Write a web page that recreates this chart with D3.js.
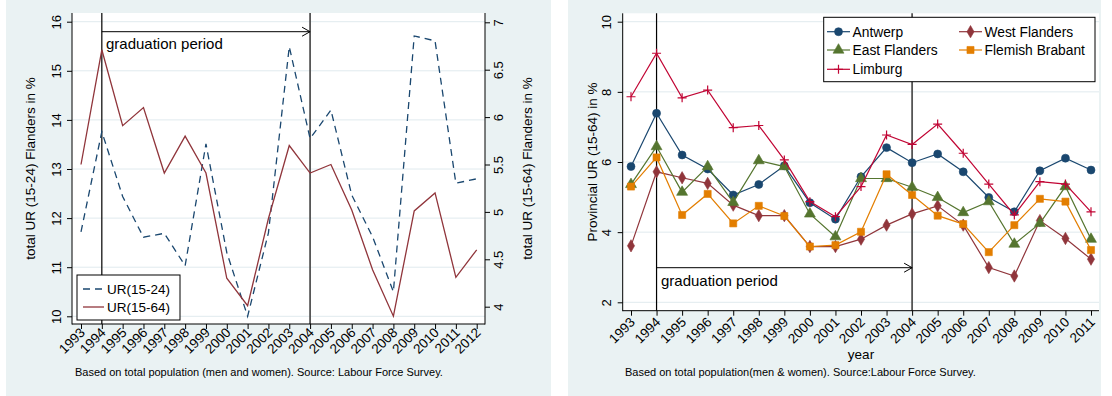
<!DOCTYPE html>
<html>
<head>
<meta charset="utf-8">
<script src="https://cdn.jsdelivr.net/npm/d3@7"></script>
<style>
  body { margin: 0; background: #fff; }
  text { font-family: "Liberation Sans", Arial, sans-serif; fill: #000; }
</style>
</head>
<body>
<script>
// ---- data ----
var yearsTotal = [1993, 1994, 1995, 1996, 1997, 1998, 1999, 2000, 2001, 2002,
                  2003, 2004, 2005, 2006, 2007, 2008, 2009, 2010, 2011, 2012];
var urYouth = [11.72, 13.76, 12.44, 11.61, 11.69, 11.03, 13.51, 11.30, 10.00, 11.70,
               15.49, 13.62, 14.20, 12.47, 11.62, 10.50, 15.71, 15.61, 12.71, 12.80];
var urTotal = [5.50, 6.71, 5.91, 6.10, 5.41, 5.80, 5.41, 4.30, 4.01, 4.93,
               5.70, 5.41, 5.50, 5.02, 4.39, 3.90, 5.01, 5.20, 4.31, 4.60];

var yearsProv = [1993, 1994, 1995, 1996, 1997, 1998, 1999, 2000, 2001, 2002,
                 2003, 2004, 2005, 2006, 2007, 2008, 2009, 2010, 2011];
var antwerp = [5.87, 7.39, 6.20, 5.80, 5.06, 5.36, 5.89, 4.84, 4.37, 5.58,
               6.41, 5.98, 6.23, 5.72, 4.99, 4.58, 5.75, 6.11, 5.77];
var westFlanders = [3.61, 5.72, 5.55, 5.39, 4.77, 4.47, 4.47, 3.59, 3.59, 3.80,
                    4.20, 4.52, 4.75, 4.20, 2.99, 2.75, 4.33, 3.82, 3.23];
var eastFlanders = [5.36, 6.44, 5.14, 5.87, 4.85, 6.04, 5.87, 4.52, 3.87, 5.53,
                    5.53, 5.28, 4.99, 4.56, 4.87, 3.66, 4.25, 5.30, 3.80];
var flemishBrabant = [5.30, 6.13, 4.49, 5.09, 4.25, 4.75, 4.46, 3.59, 3.63, 4.01,
                      5.65, 5.06, 4.47, 4.23, 3.43, 4.20, 4.95, 4.87, 3.49];
var limburg = [7.86, 9.10, 7.83, 8.05, 6.98, 7.04, 6.06, 4.87, 4.44, 5.30,
               6.77, 6.50, 7.08, 6.25, 5.37, 4.49, 5.44, 5.37, 4.58];

var leftTicks  = [10, 11, 12, 13, 14, 15, 16];
var rightTicks = [4, 4.5, 5, 5.5, 6, 6.5, 7];
var provTicks  = [2, 4, 6, 8, 10];
var periodStart = 1994, periodEnd = 2004;

var provinces = [
  { name: 'Antwerp',         values: antwerp,        color: '#1a476f', symbol: d3.symbolCircle },
  { name: 'West Flanders',   values: westFlanders,   color: '#90353b', symbol: d3.symbolDiamond },
  { name: 'East Flanders',   values: eastFlanders,   color: '#55752f', symbol: d3.symbolTriangle },
  { name: 'Flemish Brabant', values: flemishBrabant, color: '#e37e00', symbol: d3.symbolSquare },
  { name: 'Limburg',         values: limburg,        color: '#c10534', symbol: 'plus' }
];

var width = 1112, height = 396;
var bg = '#eaf2f3', gridColor = '#e0eaee';
var fontFam = '"Liberation Sans", Arial, sans-serif';

var svg = d3.select('body').append('svg')
    .attr('width', width)
    .attr('height', height);

// panels
svg.append('rect').attr('x', 6).attr('y', 0).attr('width', 545).attr('height', height).attr('fill', bg);
svg.append('rect').attr('x', 568).attr('y', 0).attr('width', 533).attr('height', height).attr('fill', bg);

function styleAxis(g) {
  g.select('.domain').remove();
  g.selectAll('.tick line').attr('stroke', '#000');
}

function arrow(g, x1, x2, y) {
  g.append('line').attr('x1', x1).attr('x2', x2).attr('y1', y).attr('y2', y)
      .attr('stroke', '#000').attr('stroke-width', 1);
  g.append('path').attr('d', 'M' + (x2 - 8) + ',' + (y - 4.5) + 'L' + x2 + ',' + y + 'L' + (x2 - 8) + ',' + (y + 4.5))
      .attr('fill', 'none').attr('stroke', '#000').attr('stroke-width', 1);
}

// ================= left chart =================
var L = { left: 72, right: 485, top: 13, bottom: 324 };
var xL = d3.scaleLinear().domain([1993, 2012]).range([81, 476.7]);
var yLeft = d3.scaleLinear().domain([10, 16]).range([316.3, 21.7]);
var yRight = d3.scaleLinear().domain([4, 7]).range([306.7, 22.3]);

var left = svg.append('g');
left.append('rect').attr('x', L.left).attr('y', L.top)
    .attr('width', L.right - L.left).attr('height', L.bottom - L.top).attr('fill', '#fff');

left.selectAll('.grid').data(leftTicks).enter().append('line')
    .attr('x1', L.left).attr('x2', L.right)
    .attr('y1', function (d) { return yLeft(d); })
    .attr('y2', function (d) { return yLeft(d); })
    .attr('stroke', gridColor).attr('stroke-width', 1);

// period lines
left.append('line').attr('x1', xL(periodStart)).attr('x2', xL(periodStart))
    .attr('y1', L.top).attr('y2', L.bottom).attr('stroke', '#000').attr('stroke-width', 1.2);
left.append('line').attr('x1', xL(periodEnd)).attr('x2', xL(periodEnd))
    .attr('y1', L.top).attr('y2', L.bottom).attr('stroke', '#555').attr('stroke-width', 1.8);
arrow(left, xL(periodStart), xL(periodEnd), 31.7);
left.append('text').attr('x', 106).attr('y', 48.5).style('font-size', '15px').text('graduation period');

var lineYouth = d3.line()
    .x(function (d, i) { return xL(yearsTotal[i]); })
    .y(function (d) { return yLeft(d); });
var lineTotal = d3.line()
    .x(function (d, i) { return xL(yearsTotal[i]); })
    .y(function (d) { return yRight(d); });

left.append('path').attr('d', lineYouth(urYouth))
    .attr('fill', 'none').attr('stroke', '#1a476f').attr('stroke-width', 1.3)
    .attr('stroke-dasharray', '7,5');
left.append('path').attr('d', lineTotal(urTotal))
    .attr('fill', 'none').attr('stroke', '#90353b').attr('stroke-width', 1.3);

// axes
left.append('line').attr('x1', L.left).attr('x2', L.left).attr('y1', L.top).attr('y2', L.bottom + 0.5).attr('stroke', '#000');
left.append('line').attr('x1', L.right).attr('x2', L.right).attr('y1', L.top).attr('y2', L.bottom + 0.5).attr('stroke', '#000');
left.append('line').attr('x1', L.left).attr('x2', L.right).attr('y1', L.bottom).attr('y2', L.bottom).attr('stroke', '#000');

left.append('g').attr('transform', 'translate(' + L.left + ',0)')
    .call(d3.axisLeft(yLeft).tickValues(leftTicks).tickSize(5).tickFormat(d3.format('d')))
    .call(styleAxis)
    .call(function (g) {
      g.selectAll('text').attr('x', 0).attr('y', -11).attr('dy', 0)
        .attr('transform', 'rotate(-90)').style('text-anchor', 'middle')
        .style('font-size', '13px').style('font-family', fontFam);
    });

left.append('g').attr('transform', 'translate(' + L.right + ',0)')
    .call(d3.axisRight(yRight).tickValues(rightTicks).tickSize(5).tickFormat(d3.format('~g')))
    .call(styleAxis)
    .call(function (g) {
      g.selectAll('text').attr('x', 0).attr('y', 18).attr('dy', 0)
        .attr('transform', 'rotate(-90)').style('text-anchor', 'middle')
        .style('font-size', '13px').style('font-family', fontFam);
    });

left.append('g').attr('transform', 'translate(0,' + L.bottom + ')')
    .call(d3.axisBottom(xL).tickValues(yearsTotal).tickSize(5).tickFormat(d3.format('d')))
    .call(styleAxis)
    .call(function (g) {
      g.selectAll('text').attr('x', 0).attr('y', 0).attr('dy', '0.35em')
        .attr('transform', 'translate(1,6) rotate(-45)').style('text-anchor', 'end')
        .style('font-size', '13.5px').style('font-family', fontFam);
    });

left.append('text').attr('transform', 'translate(35,168.5) rotate(-90)')
    .style('text-anchor', 'middle').style('font-size', '13.5px').text('total UR (15-24) Flanders in %');
left.append('text').attr('transform', 'translate(531.5,168.5) rotate(-90)')
    .style('text-anchor', 'middle').style('font-size', '13.5px').text('total UR (15-64) Flanders in %');

// legend
var legL = left.append('g');
legL.append('rect').attr('x', 77).attr('y', 275).attr('width', 103).attr('height', 45)
    .attr('fill', '#fff').attr('stroke', '#000').attr('stroke-width', 1);
legL.append('line').attr('x1', 83).attr('x2', 104).attr('y1', 289).attr('y2', 289)
    .attr('stroke', '#1a476f').attr('stroke-width', 1.3).attr('stroke-dasharray', '7,5');
legL.append('line').attr('x1', 83).attr('x2', 104).attr('y1', 307).attr('y2', 307)
    .attr('stroke', '#90353b').attr('stroke-width', 1.3);
legL.append('text').attr('x', 107).attr('y', 289).attr('dy', '0.36em').style('font-size', '13.5px').text('UR(15-24)');
legL.append('text').attr('x', 107).attr('y', 307).attr('dy', '0.36em').style('font-size', '13.5px').text('UR(15-64)');

left.append('text').attr('x', 75).attr('y', 376).style('font-size', '11px')
    .text('Based on total population (men and women). Source: Labour Force Survey.');

// ================= right chart =================
var R = { left: 622.7, right: 1099, top: 13.3, bottom: 310.7 };
var xR = d3.scaleLinear().domain([1993, 2011]).range([631, 1091]);
var yP = d3.scaleLinear().domain([2, 10]).range([302.3, 21.7]);

var right = svg.append('g');
right.append('rect').attr('x', R.left).attr('y', R.top)
    .attr('width', R.right - R.left).attr('height', R.bottom - R.top).attr('fill', '#fff');

right.selectAll('.grid').data(provTicks).enter().append('line')
    .attr('x1', R.left).attr('x2', R.right)
    .attr('y1', function (d) { return yP(d); })
    .attr('y2', function (d) { return yP(d); })
    .attr('stroke', gridColor).attr('stroke-width', 1);

right.append('line').attr('x1', xR(periodStart)).attr('x2', xR(periodStart))
    .attr('y1', R.top).attr('y2', R.bottom).attr('stroke', '#000').attr('stroke-width', 1.2);
right.append('line').attr('x1', xR(periodEnd)).attr('x2', xR(periodEnd))
    .attr('y1', R.top).attr('y2', R.bottom).attr('stroke', '#555').attr('stroke-width', 1.8);
arrow(right, xR(periodStart), xR(periodEnd), 267.7);
right.append('text').attr('x', 661).attr('y', 285.5).style('font-size', '15px').text('graduation period');

function drawMarker(g, sym, color, x, y) {
  if (sym === 'plus') {
    g.append('path').attr('d', 'M' + (x - 4.5) + ',' + y + 'H' + (x + 4.5) + 'M' + x + ',' + (y - 4.5) + 'V' + (y + 4.5))
        .attr('stroke', color).attr('stroke-width', 1.2).attr('fill', 'none');
  } else {
    var size = sym === d3.symbolTriangle ? 52 : (sym === d3.symbolSquare ? 50 : (sym === d3.symbolDiamond ? 44 : 50));
    g.append('path').attr('d', d3.symbol().type(sym).size(size)())
        .attr('transform', 'translate(' + x + ',' + y + ')')
        .attr('fill', color).attr('stroke', color).attr('stroke-width', 0.6);
  }
}

var lineProv = d3.line()
    .x(function (d, i) { return xR(yearsProv[i]); })
    .y(function (d) { return yP(d); });

provinces.forEach(function (p) {
  var g = right.append('g');
  g.append('path').attr('d', lineProv(p.values))
      .attr('fill', 'none').attr('stroke', p.color).attr('stroke-width', 1.2);
  p.values.forEach(function (v, i) {
    drawMarker(g, p.symbol, p.color, xR(yearsProv[i]), yP(v));
  });
});

right.append('line').attr('x1', R.left).attr('x2', R.left).attr('y1', R.top).attr('y2', R.bottom + 0.5).attr('stroke', '#000');
right.append('line').attr('x1', R.left).attr('x2', R.right).attr('y1', R.bottom).attr('y2', R.bottom).attr('stroke', '#000');

right.append('g').attr('transform', 'translate(' + R.left + ',0)')
    .call(d3.axisLeft(yP).tickValues(provTicks).tickSize(5).tickFormat(d3.format('d')))
    .call(styleAxis)
    .call(function (g) {
      g.selectAll('text').attr('x', 0).attr('y', -11.5).attr('dy', 0)
        .attr('transform', 'rotate(-90)').style('text-anchor', 'middle')
        .style('font-size', '13px').style('font-family', fontFam);
    });

right.append('g').attr('transform', 'translate(0,' + R.bottom + ')')
    .call(d3.axisBottom(xR).tickValues(yearsProv).tickSize(5).tickFormat(d3.format('d')))
    .call(styleAxis)
    .call(function (g) {
      g.selectAll('text').attr('x', 0).attr('y', 0).attr('dy', '0.35em')
        .attr('transform', 'translate(1,9) rotate(-45)').style('text-anchor', 'end')
        .style('font-size', '13.5px').style('font-family', fontFam);
    });

right.append('text').attr('transform', 'translate(597,162) rotate(-90)')
    .style('text-anchor', 'middle').style('font-size', '13.5px').text('Provincial UR (15-64) in %');
right.append('text').attr('x', 861).attr('y', 359).style('text-anchor', 'middle')
    .style('font-size', '13.5px').text('year');

// legend
var legR = right.append('g');
legR.append('rect').attr('x', 823.7).attr('y', 17.3).attr('width', 271.3).attr('height', 64.4)
    .attr('fill', '#fff').attr('stroke', '#000').attr('stroke-width', 1);
var legPos = [
  { x: 827, y: 31.7 }, { x: 959, y: 31.7 },
  { x: 827, y: 50 },   { x: 959, y: 50 },
  { x: 827, y: 69.3 }
];
provinces.forEach(function (p, i) {
  var pos = legPos[i];
  legR.append('line').attr('x1', pos.x).attr('x2', pos.x + 23).attr('y1', pos.y).attr('y2', pos.y)
      .attr('stroke', p.color).attr('stroke-width', 1.2);
  drawMarker(legR, p.symbol, p.color, pos.x + 11.5, pos.y);
  legR.append('text').attr('x', pos.x + 25.5).attr('y', pos.y).attr('dy', '0.36em')
      .style('font-size', '13.8px').text(p.name);
});

right.append('text').attr('x', 625).attr('y', 376).style('font-size', '11px')
    .text('Based on total population(men & women). Source:Labour Force Survey.');
</script>
</body>
</html>
